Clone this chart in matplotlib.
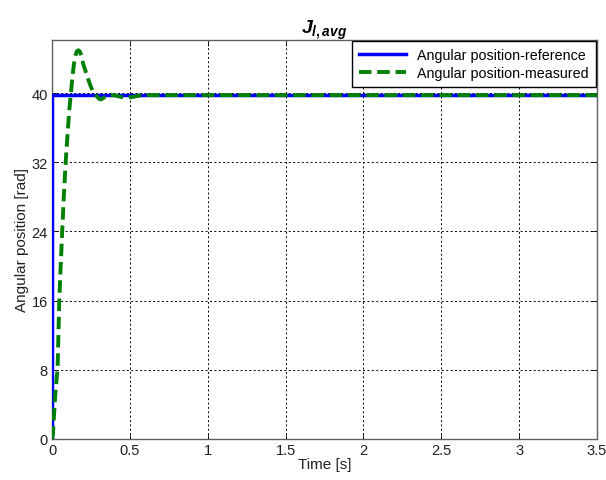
import matplotlib
matplotlib.use("Agg")
import matplotlib.pyplot as plt

plt.rcParams["font.family"] = ["Liberation Sans", "DejaVu Sans"]
plt.rcParams["mathtext.fontset"] = "custom"
plt.rcParams["mathtext.it"] = "Liberation Sans:bold:italic"
plt.rcParams["mathtext.rm"] = "Liberation Sans:bold"

# reference: step to the set point
t_ref = [0.0, 0.0, 3.5]
y_ref = [0.0, 39.8, 39.8]

t_meas = [0.0, 0.005, 0.01, 0.018, 0.025, 0.035, 0.046, 0.055, 0.065, 0.075,
          0.087, 0.10, 0.11, 0.12, 0.13, 0.14, 0.15, 0.16, 0.17, 0.18,
          0.19, 0.20, 0.22, 0.24, 0.26, 0.28, 0.30, 0.31, 0.32, 0.34,
          0.36, 0.40, 0.44, 0.48, 0.52, 0.56, 0.62, 0.8, 1.2, 3.5]
y_meas = [0.0, 0.5, 2.0, 4.5, 6.2, 8.0, 16.0, 20.0, 24.1, 28.0,
          32.0, 35.5, 38.0, 39.9, 41.8, 43.4, 44.4, 44.9, 45.0, 44.8,
          44.2, 43.4, 42.3, 41.2, 40.3, 39.8, 39.4, 39.3, 39.35, 39.6,
          39.75, 39.8, 39.6, 39.5, 39.6, 39.75, 39.8, 39.8, 39.8, 39.8]

x_ticks = [0, 0.5, 1, 1.5, 2, 2.5, 3, 3.5]
x_labels = ["0", "0.5", "1", "1.5", "2", "2.5", "3", "3.5"]
y_ticks = [0, 8, 16, 24, 32, 40]

fig = plt.figure(figsize=(6.06, 4.81), dpi=100)
ax = fig.add_axes([0.086, 0.086, 0.899, 0.829])

ax.plot(t_ref, y_ref, color="#0000ff", lw=2.5, label="Angular position-reference", zorder=3)
ax.plot(t_meas, y_meas, color="#008000", lw=2.8, ls=(0, (3.2, 1.5)),
        label="Angular position-measured", zorder=4)

ax.set_xlim(0, 3.5)
ax.set_ylim(0, 46.2)
ax.set_xticks(x_ticks)
ax.set_xticklabels(x_labels)
ax.set_yticks(y_ticks)
ax.tick_params(direction="in", labelsize=10.5, length=4, width=0.6, pad=3,
               top=True, right=True, labelcolor="#202020")
ax.grid(True, color="k", ls=(0, (2, 2.5)), lw=0.7)
for s in ax.spines.values():
    s.set_linewidth(1.0)
    s.set_color("#606060")

ax.set_xlabel("Time [s]", fontsize=11, labelpad=0, color="#202020")
ax.set_ylabel("Angular position [rad]", fontsize=11, labelpad=2, color="#202020")
ax.set_title(r"$J_{l,avg}$", fontsize=14, pad=5)

leg = ax.legend(loc="upper right", fontsize=10.3, handlelength=3.3,
                fancybox=False, framealpha=1, borderaxespad=0.05,
                borderpad=0.5, labelspacing=0.3, handletextpad=0.8)
leg.get_frame().set_edgecolor("k")
leg.get_frame().set_linewidth(1.0)

fig.savefig("out.png", dpi=100)
